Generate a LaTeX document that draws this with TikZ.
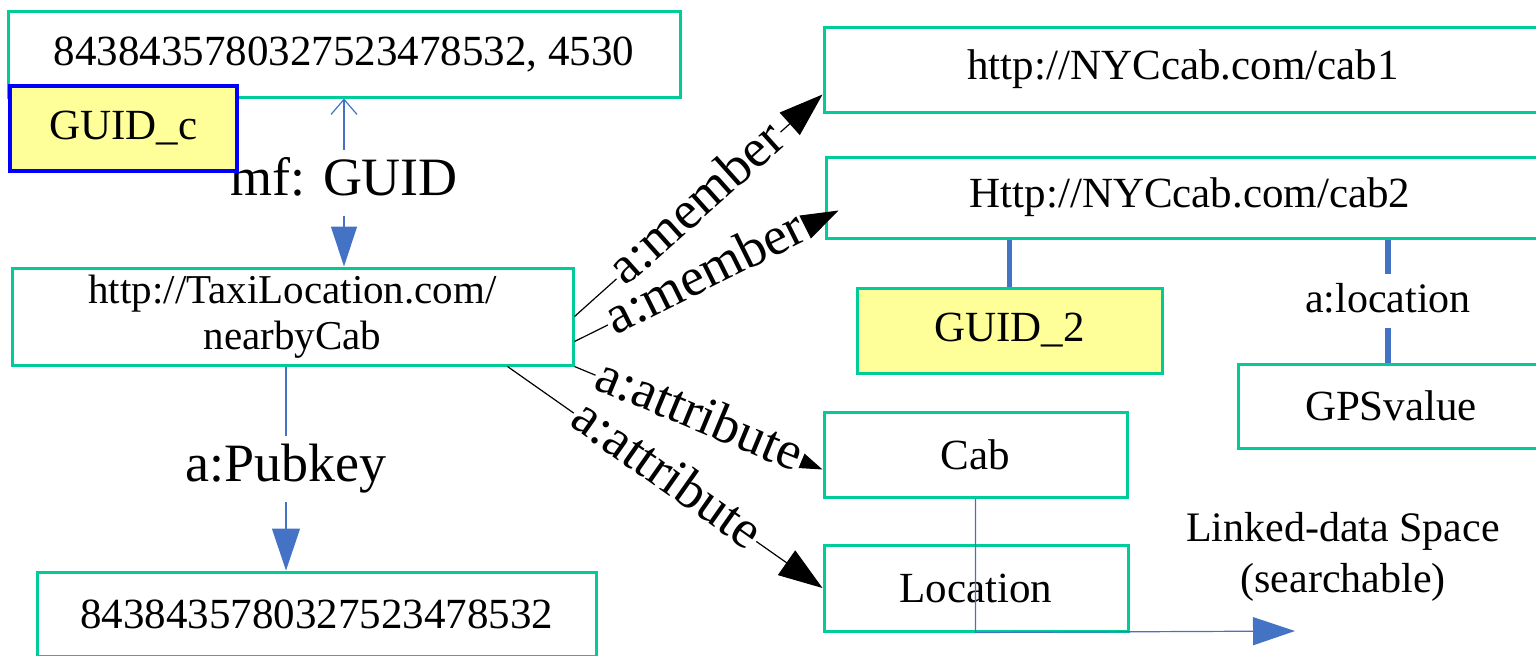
\documentclass[tikz,border=0pt]{standalone}
\usepackage{fontspec}
\setmainfont{Liberation Serif}
\usetikzlibrary{arrows.meta,calc}
\definecolor{boxgreen}{RGB}{0,204,153}
\definecolor{linkblue}{RGB}{68,114,196}
\definecolor{notefill}{RGB}{255,255,153}
\definecolor{guidblue}{RGB}{0,0,255}
\begin{document}
\begin{tikzpicture}[x=0.5pt,y=-0.5pt,
  box/.style={draw=boxgreen, line width=1.5pt, inner sep=0pt, align=center,
    font=\fontsize{21.5}{23}\selectfont},
  note/.style={box, fill=notefill},
  edgelabel/.style={fill=white, inner sep=3pt, text height=20pt, text depth=7pt,
    font=\fontsize{27}{30}\selectfont},
  smalllabel/.style={edgelabel, text height=16pt, text depth=5pt,
    font=\fontsize{21}{24}\selectfont},
  thinblue/.style={draw=linkblue, line width=0.6pt},
  thickblue/.style={draw=linkblue, line width=2.6pt},
  bluetip/.style={-{Triangle[length=21pt,width=14pt,color=linkblue]}},
  memberarrow/.style={draw=black, line width=0.6pt, -{Triangle[length=22pt,width=15pt]}}]
\useasboundingbox (0,0) rectangle (1536,655);
\clip (0,0) rectangle (1536,655);

% identifier side
\node[box, minimum width=336pt, minimum height=43pt] (idbox) at (344,54) {8438435780327523478532, 4530};
\node[box, minimum width=280.5pt, minimum height=48.5pt, font=\fontsize{20.5}{23}\selectfont] (taxi) at (292.5,316.5) {http://TaxiLocation.com/\\nearbyCab};
\node[box, minimum width=279.5pt, minimum height=42pt] (pk) at (316.5,614) {8438435780327523478532};

% linked-data side
\node[box, minimum width=359pt, minimum height=42.5pt] (cab1) at (1183,69.5) {http://NYCcab.com/cab1};
\node[box, minimum width=364pt, minimum height=40.5pt] (cab2) at (1190,197.5) {Http://NYCcab.com/cab2};
\node[note, minimum width=152.5pt, minimum height=42.5pt] (guid2) at (1009.5,330.5) {GUID\_2};
\node[box, minimum width=153pt, minimum height=42pt] (gps) at (1391,406) {GPSvalue};
\node[box, minimum width=151.5pt, minimum height=42.5pt] (cab) at (975.5,454.5) {Cab};
\node[box, minimum width=152pt, minimum height=43pt] (loc) at (976,588) {Location};
\node[align=center, font=\fontsize{21}{25.5}\selectfont] (space) at (1343,557) {Linked-data Space\\(searchable)};
\coordinate (spaceend) at (1295,631);

% attachment points of the vertical links
\coordinate (pkstart) at ($(taxi.south)+(-6.5,0)$);
\coordinate (gpstop) at ($(gps.north)+(-3,0)$);

% vertical links
\draw[thinblue, {Straight Barb[length=7.5pt,width=13pt,color=linkblue]}-{Triangle[length=20pt,width=13pt,color=linkblue]}]
  (idbox.south) -- node[edgelabel, inner xsep=0pt] {mf: GUID} (idbox.south |- taxi.north);
\draw[thinblue, bluetip] (pkstart) -- node[edgelabel] {a:Pubkey} (pkstart |- pk.north);
\draw[thickblue] (guid2.north |- cab2.south) -- (guid2.north);
\draw[thickblue] (gpstop |- cab2.south) -- node[smalllabel] {a:location} (gpstop);
\draw[thinblue, bluetip] (cab.south) -- (cab.south |- loc.south) -- (spaceend);

% GUID tag sitting on the identifier box
\node[note, draw=guidblue, line width=2pt, minimum width=113.5pt, minimum height=42.5pt] (guidc) at (123.5,128.5) {GUID\_c};

% predicate arrows
\draw[memberarrow] (taxi.east) -- node[edgelabel, sloped, inner sep=1pt] {a:member} ($(cab1.south west)+(0,-19)$);
\draw[memberarrow] ($(taxi.south east)+(0,-25)$) -- node[edgelabel, sloped, inner sep=1pt] {a:member} ($(cab2.south west)+(14,-29)$);
\draw[memberarrow] (taxi.south east) -- node[edgelabel, sloped, inner sep=1pt] {a:attribute} ($(cab.west)+(0,15)$);
\draw[memberarrow] ($(taxi.south east)+(-67,0)$) -- node[edgelabel, sloped, inner sep=1pt] {a:attribute} (loc.west);
\end{tikzpicture}
\end{document}
